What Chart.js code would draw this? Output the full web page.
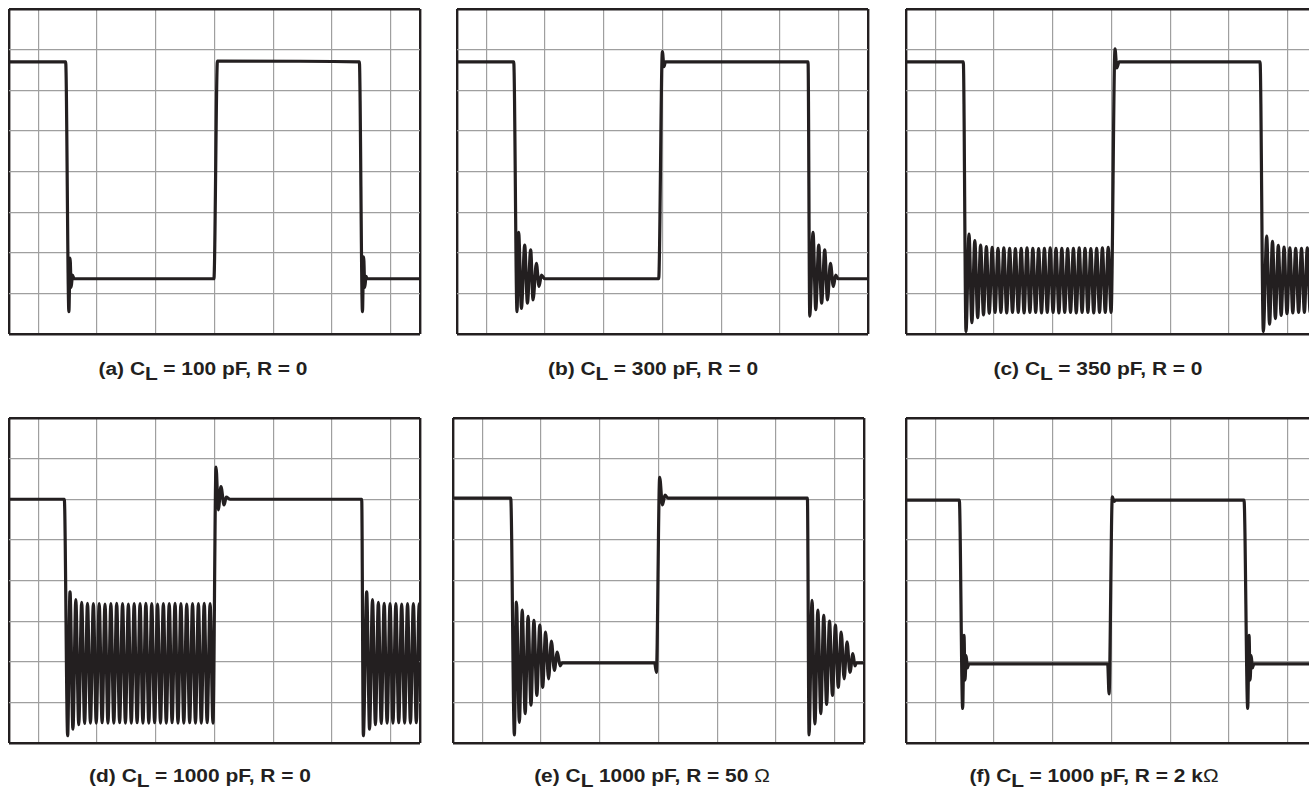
<!DOCTYPE html>
<html>
<head>
<meta charset="utf-8">
<script src="https://cdn.jsdelivr.net/npm/chart.js@4/dist/chart.umd.min.js"></script>
<style>
  html, body { margin: 0; padding: 0; background: #fff; }
  body { width: 1309px; height: 789px; overflow: hidden; position: relative; }
  canvas { position: absolute; }
  .cap {
    position: absolute; width: 400px; text-align: center; white-space: nowrap;
    font-family: "Liberation Sans", Arial, sans-serif; font-weight: bold;
    font-size: 18.7px; line-height: 18.7px; color: #231f20;
    transform: scaleX(1.12); transform-origin: center;
  }
  .cap .sub { position: relative; top: 5px; }
  .cap .ohm { font-weight: normal; }
</style>
</head>
<body>
<canvas id="pa"></canvas>
<canvas id="pb"></canvas>
<canvas id="pc"></canvas>
<canvas id="pd"></canvas>
<canvas id="pe"></canvas>
<canvas id="pf"></canvas>

<script>
// scope graticule: 7 x 8 divisions, grid lines between the frame edges
const xGrid = [0, 0.5, 1.5, 2.5, 3.5, 4.5, 5.5, 6.5, 7];
const yGrid = [0, 1, 2, 3, 4, 5, 6, 7, 8];

// captions, one per panel
const captionHeads = ['(a) C', '(b) C', '(c) C', '(d) C', '(e) C', '(f) C'];
const captionTails = [
  ' = 100 pF, R = 0',
  ' = 300 pF, R = 0',
  ' = 350 pF, R = 0',
  ' = 1000 pF, R = 0',
  ' 1000 pF, R = 50 \u03A9',
  ' = 1000 pF, R = 2 k\u03A9'
];

// traces: [time (div), level (div)]
const traceA = [
  [0, 6.70], [0.965, 6.70], [1.02, 0.55], [1.04, 1.87], [1.06, 1.15], [1.08, 1.45], [1.11, 1.36],
  [3.49, 1.36], [3.55, 6.72], [5.967, 6.70], [6.02, 0.55], [6.04, 1.90], [6.06, 1.15],
  [6.08, 1.42], [6.10, 1.36], [7, 1.36]
];

const traceB = [
  [0, 6.70], [0.966, 6.70], [1.022, 0.55], [1.05, 2.50], [1.097, 0.63], [1.153, 2.19],
  [1.199, 0.76], [1.255, 2.07], [1.295, 0.84], [1.352, 1.74], [1.397, 1.17], [1.438, 1.45],
  [1.494, 1.36], [3.435, 1.36], [3.498, 6.95], [3.525, 6.58], [3.55, 6.70], [5.979, 6.70],
  [6.008, 0.44], [6.064, 2.50], [6.11, 0.60], [6.161, 2.19], [6.21, 0.76], [6.263, 2.07],
  [6.31, 0.84], [6.36, 1.74], [6.41, 1.17], [6.45, 1.45], [6.49, 1.36], [7, 1.36]
];

const traceC = [
  [0, 6.70], [0.976, 6.70], [1.022, 0.06],
  [1.073, 2.46], [1.122, 0.28], [1.172, 2.30], [1.221, 0.40], [1.271, 2.19], [1.320, 0.47],
  [1.369, 2.15], [1.418, 0.51], [1.468, 2.13], [1.517, 0.53], [1.567, 2.11], [1.616, 0.53],
  [1.666, 2.12], [1.715, 0.52], [1.765, 2.11], [1.814, 0.53], [1.863, 2.10], [1.912, 0.53],
  [1.962, 2.11], [2.011, 0.52], [2.061, 2.12], [2.110, 0.53], [2.160, 2.11], [2.209, 0.53],
  [2.259, 2.10], [2.308, 0.52], [2.357, 2.11], [2.406, 0.53], [2.456, 2.12], [2.505, 0.53],
  [2.555, 2.11], [2.604, 0.52], [2.654, 2.11], [2.703, 0.53], [2.753, 2.10], [2.802, 0.53],
  [2.851, 2.11], [2.900, 0.52], [2.950, 2.12], [2.999, 0.53], [3.049, 2.11], [3.098, 0.53],
  [3.148, 2.10], [3.197, 0.52], [3.247, 2.11], [3.296, 0.53], [3.345, 2.12], [3.394, 0.53],
  [3.444, 2.13], [3.493, 0.53],
  [3.56, 7.02], [3.59, 6.55], [3.63, 6.70], [6.03, 6.70], [6.086, 0.06],
  [6.143, 2.41], [6.192, 0.24], [6.242, 2.28], [6.291, 0.38], [6.341, 2.18], [6.390, 0.46],
  [6.439, 2.14], [6.489, 0.50], [6.538, 2.12], [6.588, 0.52], [6.637, 2.11], [6.687, 0.53],
  [6.736, 2.11], [6.785, 0.53], [6.835, 2.12], [6.884, 0.53], [6.933, 2.11], [6.983, 0.53],
  [7, 1.00]
];

const traceD = [
  [0, 6.00], [0.942, 6.00], [0.999, 0.18],
  [1.039, 3.72], [1.089, 0.34], [1.138, 3.53], [1.188, 0.45], [1.238, 3.46], [1.288, 0.48],
  [1.337, 3.44], [1.387, 0.49], [1.437, 3.43], [1.486, 0.49], [1.536, 3.43], [1.586, 0.50],
  [1.635, 3.42], [1.685, 0.49], [1.735, 3.43], [1.785, 0.49], [1.834, 3.44], [1.884, 0.50],
  [1.934, 3.43], [1.983, 0.49], [2.033, 3.42], [2.083, 0.49], [2.132, 3.43], [2.182, 0.50],
  [2.232, 3.43], [2.281, 0.49], [2.331, 3.44], [2.381, 0.49], [2.431, 3.43], [2.480, 0.50],
  [2.530, 3.42], [2.580, 0.49], [2.629, 3.43], [2.679, 0.49], [2.729, 3.43], [2.778, 0.50],
  [2.828, 3.44], [2.878, 0.49], [2.928, 3.43], [2.977, 0.49], [3.027, 3.42], [3.077, 0.50],
  [3.126, 3.43], [3.176, 0.49], [3.226, 3.43], [3.275, 0.49], [3.325, 3.44], [3.375, 0.50],
  [3.425, 3.43], [3.474, 0.49],
  [3.526, 6.79], [3.565, 5.74], [3.61, 6.31], [3.662, 5.86], [3.70, 6.05], [3.765, 6.00],
  [6.007, 6.00], [6.035, 0.18],
  [6.092, 3.72], [6.141, 0.34], [6.191, 3.53], [6.241, 0.45], [6.291, 3.46], [6.340, 0.48],
  [6.390, 3.44], [6.440, 0.49], [6.490, 3.43], [6.539, 0.49], [6.589, 3.43], [6.638, 0.50],
  [6.688, 3.42], [6.738, 0.49], [6.788, 3.43], [6.837, 0.49], [6.887, 3.43], [6.937, 0.50],
  [6.987, 3.43], [7, 2.60]
];

const traceE = [
  [0, 6.03], [0.983, 6.03], [1.045, 0.20],
  [1.080, 3.47], [1.130, 0.51], [1.179, 3.27], [1.229, 0.72], [1.279, 3.12], [1.328, 0.93],
  [1.378, 3.02], [1.428, 1.17], [1.478, 2.90], [1.527, 1.37], [1.577, 2.73], [1.627, 1.58],
  [1.676, 2.51], [1.726, 1.79], [1.776, 2.24], [1.825, 1.90], [1.86, 1.97],
  [3.435, 1.97], [3.464, 1.74], [3.52, 6.54], [3.567, 5.86], [3.61, 6.10], [3.66, 6.03],
  [6.036, 6.03], [6.064, 0.20],
  [6.115, 3.51], [6.164, 0.47], [6.214, 3.27], [6.264, 0.72], [6.314, 3.14], [6.363, 0.95],
  [6.413, 3.00], [6.463, 1.17], [6.513, 2.90], [6.562, 1.37], [6.612, 2.73], [6.661, 1.58],
  [6.711, 2.49], [6.761, 1.74], [6.811, 2.20], [6.845, 1.90], [6.87, 1.97], [7, 1.97]
];

const traceF = [
  [0, 5.98], [0.908, 5.98], [0.965, 0.85], [0.988, 2.65], [1.005, 1.55], [1.025, 2.15],
  [1.045, 1.85], [1.07, 1.95], [3.435, 1.95], [3.458, 1.21], [3.514, 6.06], [3.545, 5.95],
  [3.57, 5.98], [5.757, 5.98], [5.82, 0.85], [5.843, 2.65], [5.86, 1.55], [5.88, 2.15],
  [5.90, 1.85], [5.925, 1.95], [7, 1.95]
];

const ink = '#231f20';
const gridGray = '#9f9f9f';

const panels = [
  { id: 'pa', trace: traceA, left: 9, top: 9, cx: 202.5, cy: 360 },
  { id: 'pb', trace: traceB, left: 457, top: 9, cx: 652.7, cy: 360 },
  { id: 'pc', trace: traceC, left: 906, top: 9, cx: 1098.3, cy: 360 },
  { id: 'pd', trace: traceD, left: 9, top: 418, cx: 200.3, cy: 767.2 },
  { id: 'pe', trace: traceE, left: 453, top: 418, cx: 652, cy: 767.2 },
  { id: 'pf', trace: traceF, left: 906, top: 418, cx: 1094, cy: 767.2 }
];

const PAD = 3;
const W = 411, H = 325;

function isEdge(scale, value) {
  return value === scale.min || value === scale.max;
}

function makePanel(p) {
  const canvas = document.getElementById(p.id);
  canvas.width = W + 2 * PAD;
  canvas.height = H + 2 * PAD;
  canvas.style.left = (p.left - PAD) + 'px';
  canvas.style.top = (p.top - PAD) + 'px';

  const gridOpts = {
    drawTicks: false,
    color: ctx => isEdge(ctx.scale, ctx.tick.value) ? ink : gridGray,
    lineWidth: ctx => isEdge(ctx.scale, ctx.tick.value) ? 2.4 : 1.2
  };

  new Chart(canvas.getContext('2d'), {
    type: 'line',
    data: {
      datasets: [{
        data: p.trace.map(pt => ({ x: pt[0], y: pt[1] })),
        borderColor: ink,
        borderWidth: 3.2,
        pointRadius: 0,
        cubicInterpolationMode: 'monotone',
        borderJoinStyle: 'round',
        borderCapStyle: 'round',
        fill: false
      }]
    },
    options: {
      responsive: false,
      animation: false,
      events: [],
      layout: { padding: PAD },
      plugins: { legend: { display: false }, tooltip: { enabled: false } },
      scales: {
        x: {
          type: 'linear', min: 0, max: 7,
          afterBuildTicks: s => { s.ticks = xGrid.map(v => ({ value: v })); },
          ticks: { display: false },
          grid: gridOpts,
          border: { display: false }
        },
        y: {
          type: 'linear', min: 0, max: 8,
          afterBuildTicks: s => { s.ticks = yGrid.map(v => ({ value: v })); },
          ticks: { display: false },
          grid: gridOpts,
          border: { display: false }
        }
      }
    }
  });
}

panels.forEach((p, i) => {
  makePanel(p);
  const cap = document.createElement('div');
  cap.className = 'cap';
  cap.style.left = (p.cx - 200) + 'px';
  cap.style.top = p.cy + 'px';
  const tail = captionTails[i].replace('\u03A9', '<span class="ohm">\u03A9</span>');
  cap.innerHTML = captionHeads[i] + '<span class="sub">L</span>' + tail;
  document.body.appendChild(cap);
});
</script>
</body>
</html>
